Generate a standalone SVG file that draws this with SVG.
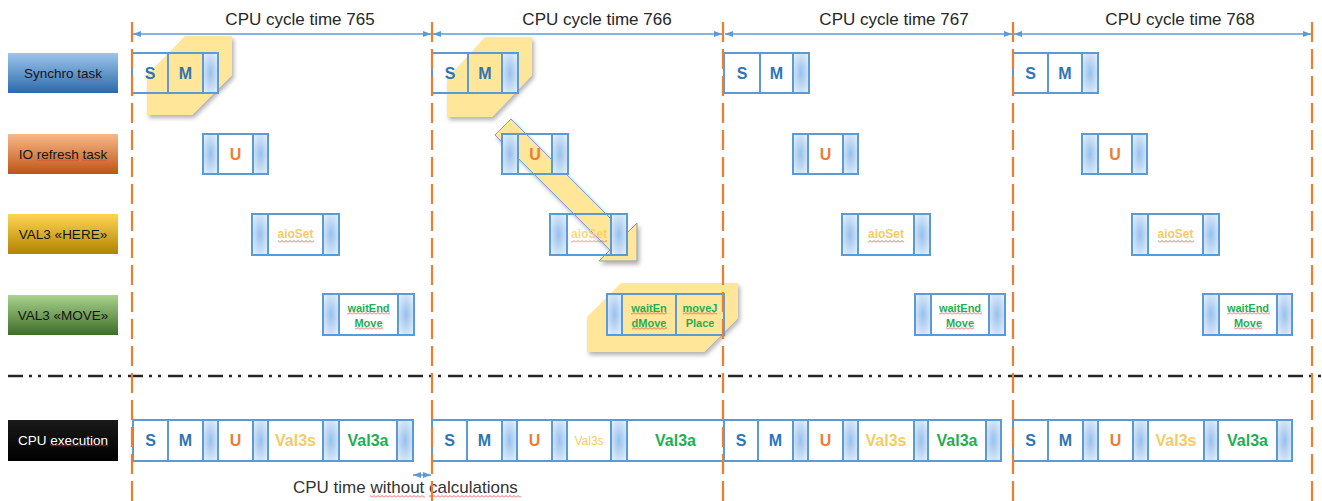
<svg xmlns="http://www.w3.org/2000/svg" width="1322" height="501" viewBox="0 0 1322 501">
  <defs>
    <style>
      .c{fill:#fff;stroke:#5b9bd5;stroke-width:2}
      .o{fill:none;stroke:#5b9bd5;stroke-width:2}
      .h{fill:url(#shade);stroke:#5b9bd5;stroke-width:2}
      .tx{font-family:"Liberation Sans",Arial,sans-serif;font-weight:700;text-anchor:middle;dominant-baseline:central}
      .big{font-size:16px}
      .mid{font-size:12px}
      .sm{font-size:11px}
      .blue{fill:#2e75b6}
      .org{fill:#ed7d31}
      .yel{fill:#f3cc64}
      .grn{fill:#1fae55}
      .lab{font-family:"Liberation Sans",Arial,sans-serif;font-size:13.5px;text-anchor:middle;dominant-baseline:central;fill:#141414}
      .title{font-family:"Liberation Sans",Arial,sans-serif;font-size:17px;text-anchor:middle;fill:#262626}
      .sq{fill:url(#squig)}
      .hl{fill:#ffe699;filter:url(#shadow)}
      .span{stroke:#5b9bd5;stroke-width:1.5;fill:none;marker-start:url(#ah);marker-end:url(#ah)}
      .cyc{stroke:#ed7d31;stroke-width:2.2;stroke-dasharray:20 7;fill:none}
    </style>
    <radialGradient id="shade" cx="0.5" cy="0.5" r="0.6">
      <stop offset="0" stop-color="#98c0ee"/>
      <stop offset="1" stop-color="#e1edf9"/>
    </radialGradient>
    <linearGradient id="gSync" x1="0" y1="0" x2="0" y2="1">
      <stop offset="0" stop-color="#9cc5ec"/>
      <stop offset="1" stop-color="#2c6aab"/>
    </linearGradient>
    <linearGradient id="gIo" x1="0" y1="0" x2="0" y2="1">
      <stop offset="0" stop-color="#f8b989"/>
      <stop offset="1" stop-color="#bf5414"/>
    </linearGradient>
    <linearGradient id="gHere" x1="0" y1="0" x2="0" y2="1">
      <stop offset="0" stop-color="#ffd654"/>
      <stop offset="1" stop-color="#b08300"/>
    </linearGradient>
    <linearGradient id="gMove" x1="0" y1="0" x2="0" y2="1">
      <stop offset="0" stop-color="#a9d38e"/>
      <stop offset="1" stop-color="#3e6d27"/>
    </linearGradient>
    <linearGradient id="gCpu" x1="0" y1="0" x2="0" y2="1">
      <stop offset="0" stop-color="#1a1a1a"/>
      <stop offset="1" stop-color="#000"/>
    </linearGradient>
    <pattern id="squig" width="4" height="3" patternUnits="userSpaceOnUse">
      <path d="M0 2.5 L2 0.5 L4 2.5" stroke="#e53935" stroke-width="0.8" fill="none"/>
    </pattern>
    <filter id="shadow" x="-10%" y="-10%" width="130%" height="130%">
      <feDropShadow dx="2" dy="3" stdDeviation="2" flood-color="#000" flood-opacity="0.3"/>
    </filter>
    <marker id="ah" viewBox="0 0 8 6" markerWidth="8" markerHeight="6" refX="8" refY="3" orient="auto-start-reverse" markerUnits="userSpaceOnUse">
      <path d="M0 0 L8 3 L0 6 z" fill="#5b9bd5"/>
    </marker>
  </defs>

  <rect width="1322" height="501" fill="#fff"/>

  <!-- yellow highlight areas behind the active slices -->
  <g id="highlights">
    <polygon class="hl" points="185,36 232,36 232,75 192,115 147,115 147,75"/>
    <polygon class="hl" points="485,37 532,37 532,75 492,117 447,117 447,79"/>
    <polygon class="hl" points="621,283 738,283 738,318 704,352 587,352 587,317"/>
  </g>

  <!-- connectors: cycle spans, data-flow arrow, idle-time marker -->
  <g id="connectors">
    <polygon points="511,119 626,234 637,223 637,261 599,261 610,250 495,135" fill="#ffe699" stroke="#7f9cc4" stroke-width="1" filter="url(#shadow)"/>
    <line class="span" x1="133" y1="34" x2="431" y2="34"/>
    <line class="span" x1="433" y1="34" x2="722" y2="34"/>
    <line class="span" x1="725" y1="34" x2="1012" y2="34"/>
    <line class="span" x1="1014" y1="34" x2="1311" y2="34"/>
    <line class="span" x1="413" y1="475" x2="431" y2="475"/>
  </g>

  <!-- cycle titles -->
  <g id="titles">
    <text class="title" x="300" y="25">CPU cycle time 765</text>
    <text class="title" x="597" y="25">CPU cycle time 766</text>
    <text class="title" x="894" y="25">CPU cycle time 767</text>
    <text class="title" x="1180" y="25">CPU cycle time 768</text>
  </g>

  <!-- row labels -->
  <g id="label-synchro">
    <rect x="8" y="53" width="110" height="40" fill="url(#gSync)"/>
    <text class="lab" x="63" y="73">Synchro task</text>
    <rect class="sq" x="77" y="78" width="24" height="3"/>
  </g>
  <g id="label-io">
    <rect x="8" y="134" width="110" height="40" fill="url(#gIo)"/>
    <text class="lab" x="63" y="154">IO refresh task</text>
    <rect class="sq" x="37" y="159" width="42" height="3"/>
    <rect class="sq" x="82" y="159" width="25" height="3"/>
  </g>
  <g id="label-here">
    <rect x="8" y="214" width="110" height="40" fill="url(#gHere)"/>
    <text class="lab" x="63" y="234">VAL3 «HERE»</text>
  </g>
  <g id="label-move">
    <rect x="8" y="295" width="110" height="40" fill="url(#gMove)"/>
    <text class="lab" x="63" y="315">VAL3 «MOVE»</text>
  </g>
  <g id="label-cpu">
    <rect x="8" y="420" width="110" height="41" fill="url(#gCpu)"/>
    <text class="lab" x="63" y="440" style="fill:#fff">CPU execution</text>
    <rect class="sq" x="50" y="444" width="58" height="3"/>
  </g>

  <!-- Synchro task slices -->
  <g id="sync-765">
    <rect class="o" x="132" y="53" width="36" height="40"/>
    <rect class="o" x="168" y="53" width="35" height="40"/>
    <rect class="h" x="203" y="53" width="15" height="40"/>
    <text class="tx big blue" x="150" y="73.5">S</text>
    <text class="tx big blue" x="185.5" y="73.5">M</text>
  </g>
  <g id="sync-766">
    <rect class="o" x="432" y="53" width="36" height="40"/>
    <rect class="o" x="468" y="53" width="34" height="40"/>
    <rect class="h" x="502" y="53" width="16" height="40"/>
    <text class="tx big blue" x="450" y="73.5">S</text>
    <text class="tx big blue" x="485" y="73.5">M</text>
  </g>
  <g id="sync-767">
    <rect class="c" x="724" y="53" width="36" height="40"/>
    <rect class="c" x="760" y="53" width="33" height="40"/>
    <rect class="h" x="793" y="53" width="16" height="40"/>
    <text class="tx big blue" x="742" y="73.5">S</text>
    <text class="tx big blue" x="776.5" y="73.5">M</text>
  </g>
  <g id="sync-768">
    <rect class="c" x="1013" y="53" width="35" height="40"/>
    <rect class="c" x="1048" y="53" width="34" height="40"/>
    <rect class="h" x="1082" y="53" width="16" height="40"/>
    <text class="tx big blue" x="1030.5" y="73.5">S</text>
    <text class="tx big blue" x="1065" y="73.5">M</text>
  </g>

  <!-- IO refresh slices -->
  <g id="io-765">
    <rect class="h" x="203" y="134" width="15" height="40"/>
    <rect class="c" x="218" y="134" width="35" height="40"/>
    <rect class="h" x="253" y="134" width="15" height="40"/>
    <text class="tx big org" x="235.5" y="154.5">U</text>
  </g>
  <g id="io-766">
    <rect class="h" x="502" y="134" width="16" height="40"/>
    <rect class="o" x="518" y="134" width="34" height="40"/>
    <rect class="h" x="552" y="134" width="16" height="40"/>
    <text class="tx big org" x="535" y="154.5">U</text>
  </g>
  <g id="io-767">
    <rect class="h" x="793" y="134" width="15" height="40"/>
    <rect class="c" x="808" y="134" width="35" height="40"/>
    <rect class="h" x="843" y="134" width="15" height="40"/>
    <text class="tx big org" x="825.5" y="154.5">U</text>
  </g>
  <g id="io-768">
    <rect class="h" x="1082" y="134" width="16" height="40"/>
    <rect class="c" x="1098" y="134" width="34" height="40"/>
    <rect class="h" x="1132" y="134" width="15" height="40"/>
    <text class="tx big org" x="1115" y="154.5">U</text>
  </g>

  <!-- VAL3 HERE slices -->
  <g id="here-765">
    <rect class="h" x="252" y="214" width="16" height="41"/>
    <rect class="c" x="268" y="214" width="55" height="41"/>
    <rect class="h" x="323" y="214" width="16" height="41"/>
    <text class="tx mid yel" x="295.5" y="234">aioSet</text>
    <rect class="sq" x="278" y="240" width="36" height="3"/>
  </g>
  <g id="here-766">
    <rect class="h" x="550" y="214" width="17" height="41"/>
    <rect class="o" x="567" y="214" width="44" height="41"/>
    <rect class="h" x="611" y="214" width="16" height="41"/>
    <text class="tx mid yel" x="589" y="234" opacity="0.8">aioSet</text>
    <rect class="sq" x="571" y="240" width="36" height="3" opacity="0.8"/>
  </g>
  <g id="here-767">
    <rect class="h" x="842" y="214" width="16" height="41"/>
    <rect class="c" x="858" y="214" width="56" height="41"/>
    <rect class="h" x="914" y="214" width="16" height="41"/>
    <text class="tx mid yel" x="886" y="234">aioSet</text>
    <rect class="sq" x="868" y="240" width="36" height="3"/>
  </g>
  <g id="here-768">
    <rect class="h" x="1132" y="214" width="16" height="41"/>
    <rect class="c" x="1148" y="214" width="55" height="41"/>
    <rect class="h" x="1203" y="214" width="16" height="41"/>
    <text class="tx mid yel" x="1175.5" y="234">aioSet</text>
    <rect class="sq" x="1158" y="240" width="36" height="3"/>
  </g>

  <!-- VAL3 MOVE slices -->
  <g id="move-765">
    <rect class="h" x="323" y="294" width="16" height="41"/>
    <rect class="c" x="339" y="294" width="59" height="41"/>
    <rect class="h" x="398" y="294" width="16" height="41"/>
    <text class="tx sm grn" x="368.5" y="307.5">waitEnd</text>
    <text class="tx sm grn" x="368.5" y="322.5">Move</text>
    <rect class="sq" x="347" y="312" width="43" height="3"/>
    <rect class="sq" x="355" y="327" width="28" height="3"/>
  </g>
  <g id="move-766">
    <rect class="h" x="607" y="294" width="15" height="41"/>
    <rect class="o" x="622" y="294" width="54" height="41"/>
    <rect class="o" x="676" y="294" width="48" height="41"/>
    <text class="tx sm grn" x="649" y="307.5">waitEn</text>
    <text class="tx sm grn" x="649" y="322.5">dMove</text>
    <text class="tx sm grn" x="700" y="307.5">moveJ</text>
    <text class="tx sm grn" x="700" y="322.5">Place</text>
    <rect class="sq" x="631" y="312" width="36" height="3"/>
    <rect class="sq" x="632" y="327" width="35" height="3"/>
    <rect class="sq" x="683" y="312" width="34" height="3"/>
  </g>
  <g id="move-767">
    <rect class="h" x="915" y="294" width="16" height="41"/>
    <rect class="c" x="931" y="294" width="58" height="41"/>
    <rect class="h" x="989" y="294" width="16" height="41"/>
    <text class="tx sm grn" x="960" y="307.5">waitEnd</text>
    <text class="tx sm grn" x="960" y="322.5">Move</text>
    <rect class="sq" x="939" y="312" width="43" height="3"/>
    <rect class="sq" x="946" y="327" width="28" height="3"/>
  </g>
  <g id="move-768">
    <rect class="h" x="1203" y="294" width="16" height="41"/>
    <rect class="c" x="1219" y="294" width="58" height="41"/>
    <rect class="h" x="1277" y="294" width="15" height="41"/>
    <text class="tx sm grn" x="1248" y="307.5">waitEnd</text>
    <text class="tx sm grn" x="1248" y="322.5">Move</text>
    <rect class="sq" x="1227" y="312" width="43" height="3"/>
    <rect class="sq" x="1234" y="327" width="28" height="3"/>
  </g>

  <!-- CPU execution timeline -->
  <g id="cpu-765">
    <rect class="c" x="133" y="420" width="35" height="41"/>
    <rect class="c" x="168" y="420" width="35" height="41"/>
    <rect class="h" x="203" y="420" width="15" height="41"/>
    <rect class="c" x="218" y="420" width="35" height="41"/>
    <rect class="h" x="253" y="420" width="15" height="41"/>
    <rect class="c" x="268" y="420" width="55" height="41"/>
    <rect class="h" x="323" y="420" width="16" height="41"/>
    <rect class="c" x="339" y="420" width="58" height="41"/>
    <rect class="h" x="397" y="420" width="16" height="41"/>
    <text class="tx big blue" x="150.5" y="440.5">S</text>
    <text class="tx big blue" x="185.5" y="440.5">M</text>
    <text class="tx big org" x="235.5" y="440.5">U</text>
    <text class="tx big yel" x="295.5" y="440.5">Val3s</text>
    <text class="tx big grn" x="368" y="440.5">Val3a</text>
  </g>
  <g id="cpu-766">
    <rect class="c" x="432" y="420" width="35" height="41"/>
    <rect class="c" x="467" y="420" width="35" height="41"/>
    <rect class="h" x="502" y="420" width="15" height="41"/>
    <rect class="c" x="517" y="420" width="35" height="41"/>
    <rect class="h" x="552" y="420" width="15" height="41"/>
    <rect class="c" x="567" y="420" width="44" height="41"/>
    <rect class="h" x="611" y="420" width="16" height="41"/>
    <rect class="c" x="627" y="420" width="97" height="41"/>
    <text class="tx big blue" x="449.5" y="440.5">S</text>
    <text class="tx big blue" x="484.5" y="440.5">M</text>
    <text class="tx big org" x="534.5" y="440.5">U</text>
    <text class="tx mid yel" x="589" y="440.5" style="font-weight:400">Val3s</text>
    <text class="tx big grn" x="675.5" y="440.5">Val3a</text>
  </g>
  <g id="cpu-767">
    <rect class="c" x="724" y="420" width="34" height="41"/>
    <rect class="c" x="758" y="420" width="35" height="41"/>
    <rect class="h" x="793" y="420" width="15" height="41"/>
    <rect class="c" x="808" y="420" width="35" height="41"/>
    <rect class="h" x="843" y="420" width="15" height="41"/>
    <rect class="c" x="858" y="420" width="56" height="41"/>
    <rect class="h" x="914" y="420" width="14" height="41"/>
    <rect class="c" x="928" y="420" width="58" height="41"/>
    <rect class="h" x="986" y="420" width="15" height="41"/>
    <text class="tx big blue" x="741" y="440.5">S</text>
    <text class="tx big blue" x="775.5" y="440.5">M</text>
    <text class="tx big org" x="825.5" y="440.5">U</text>
    <text class="tx big yel" x="886" y="440.5">Val3s</text>
    <text class="tx big grn" x="957" y="440.5">Val3a</text>
  </g>
  <g id="cpu-768">
    <rect class="c" x="1013" y="420" width="35" height="41"/>
    <rect class="c" x="1048" y="420" width="35" height="41"/>
    <rect class="h" x="1083" y="420" width="15" height="41"/>
    <rect class="c" x="1098" y="420" width="35" height="41"/>
    <rect class="h" x="1133" y="420" width="15" height="41"/>
    <rect class="c" x="1148" y="420" width="56" height="41"/>
    <rect class="h" x="1204" y="420" width="14" height="41"/>
    <rect class="c" x="1218" y="420" width="59" height="41"/>
    <rect class="h" x="1277" y="420" width="15" height="41"/>
    <text class="tx big blue" x="1030.5" y="440.5">S</text>
    <text class="tx big blue" x="1065.5" y="440.5">M</text>
    <text class="tx big org" x="1115.5" y="440.5">U</text>
    <text class="tx big yel" x="1176" y="440.5">Val3s</text>
    <text class="tx big grn" x="1247.5" y="440.5">Val3a</text>
  </g>

  <!-- idle time note -->
  <g id="idle-note">
    <text x="293" y="493" style="font-family:'Liberation Sans',Arial,sans-serif;font-size:17px;fill:#333">CPU time without calculations</text>
    <rect class="sq" x="370" y="495" width="55" height="3"/>
    <rect class="sq" x="429" y="495" width="92" height="3"/>
  </g>

  <!-- section separator and cycle boundaries -->
  <g id="grid">
    <line x1="8" y1="376" x2="1322" y2="376" stroke="#262626" stroke-width="2.5" stroke-dasharray="15 6 3 6 3 7"/>
    <line class="cyc" x1="132" y1="22" x2="132" y2="501"/>
    <line class="cyc" x1="432" y1="22" x2="432" y2="501"/>
    <line class="cyc" x1="723" y1="22" x2="723" y2="501"/>
    <line class="cyc" x1="1013" y1="22" x2="1013" y2="501"/>
    <line class="cyc" x1="1312" y1="22" x2="1312" y2="501"/>
  </g>
</svg>
